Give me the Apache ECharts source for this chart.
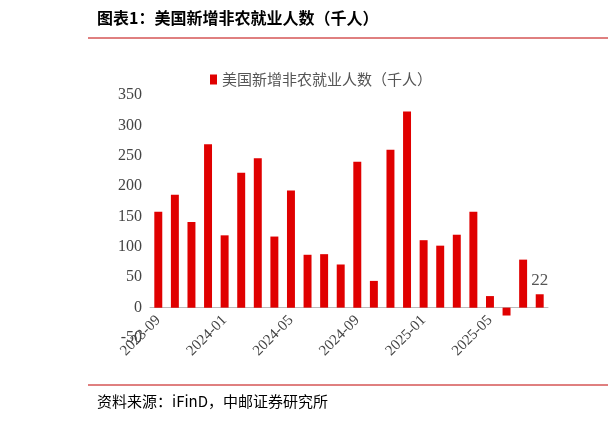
<!DOCTYPE html>
<html><head><meta charset="utf-8">
<script src="https://cdn.jsdelivr.net/npm/echarts@6/dist/echarts.min.js"></script>
<style>html,body{margin:0;padding:0;background:#fff}#c{width:608px;height:426px}</style>
</head><body><div id="c"></div>
<script>
var months = ['2023-09','2023-10','2023-11','2023-12','2024-01','2024-02','2024-03','2024-04','2024-05','2024-06','2024-07','2024-08','2024-09','2024-10','2024-11','2024-12','2025-01','2025-02','2025-03','2025-04','2025-05','2025-06','2025-07','2025-08'];
var payrolls = [158,186,141,269,119,222,246,117,193,87,88,71,240,44,260,323,111,102,120,158,19,-13,79,22];
var seriesName = '美国新增非农就业人数（千人）';
var serif = '"Liberation Serif","Times New Roman",serif';

var chart = echarts.init(document.getElementById('c'));
chart.setOption({
  animation: false,
  graphic: [
    {type:'text', left:97, top:10, style:{text:'图表1：美国新增非农就业人数（千人）', font:'bold 16px "Noto Sans CJK SC"', fill:'#000'}},
    {type:'line', shape:{x1:88,y1:38,x2:608,y2:38}, style:{stroke:'#c00000',lineWidth:1}},
    {type:'line', shape:{x1:88,y1:385,x2:608,y2:385}, style:{stroke:'#c00000',lineWidth:1}},
    {type:'text', left:97, top:394, style:{text:'资料来源：iFinD，中邮证券研究所', font:'15px "Noto Sans CJK SC"', fill:'#000'}}
  ],
  legend: {top:67, left:205, itemWidth:7, itemHeight:10, icon:'rect',
    textStyle:{fontSize:15, color:'#555', fontFamily:'"Noto Sans CJK SC"'}, data:[seriesName]},
  grid: {left:150, right:60, top:95, bottom:88},
  xAxis: {type:'category', data:months,
    axisLine:{onZero:true, lineStyle:{color:'#bbb'}}, axisTick:{show:false},
    axisLabel:{interval:3, rotate:45, margin:-20, color:'#444', fontSize:15, fontFamily:serif}},
  yAxis: {type:'value', min:-50, max:350, interval:50,
    axisLine:{show:false}, axisTick:{show:false}, splitLine:{show:false},
    axisLabel:{color:'#444', fontSize:16, fontFamily:serif}},
  series: [{name:seriesName, type:'bar', data:payrolls, barWidth:'48%',
    itemStyle:{color:'#e00000'},
    label:{show:true, position:'top', color:'#555', fontSize:17, fontFamily:serif,
      formatter:function(p){return p.dataIndex===payrolls.length-1 ? p.value : '';}}}]
});
</script></body></html>
